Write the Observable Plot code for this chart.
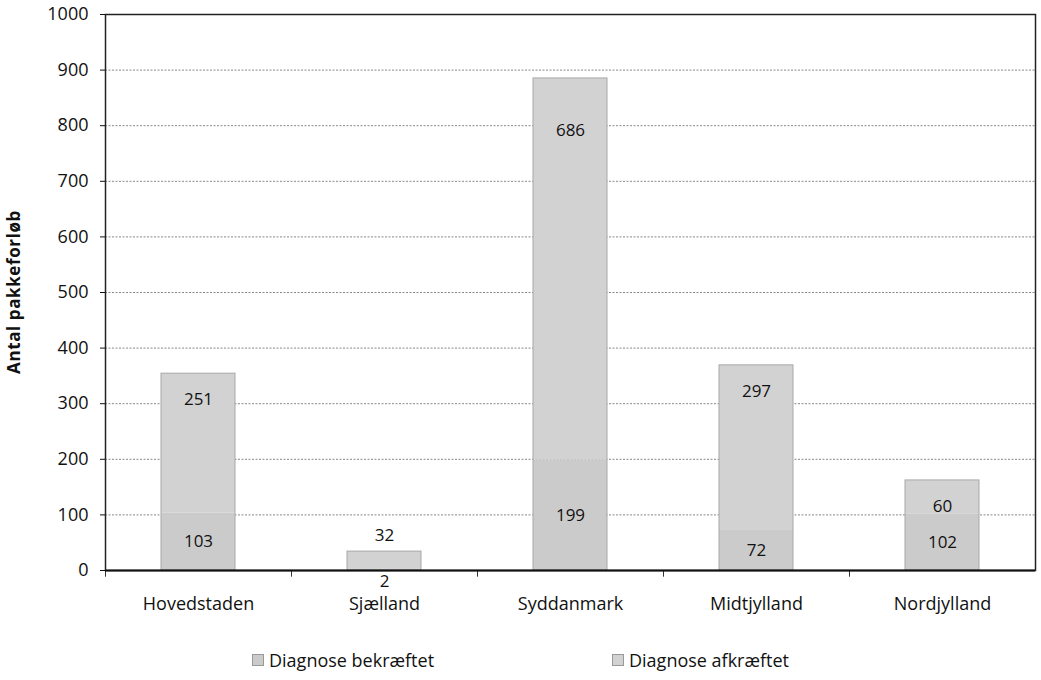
<!DOCTYPE html>
<html>
<head>
<meta charset="utf-8">
<script src="https://cdn.jsdelivr.net/npm/d3@7"></script>
<script src="https://cdn.jsdelivr.net/npm/@observablehq/plot@0.6"></script>
<style>
  body { margin: 0; background: #fff; font-family: "Open Sans", sans-serif; }
  #chart { width: 1041px; }
  .legend { position: relative; width: 1041px; height: 40px; font-size: 18px; color: #111; margin-top: 28px; }
  .legend .item { position: absolute; top: 0; display: flex; align-items: center; gap: 5px; white-space: nowrap; }
  .legend .sw { display: inline-block; width: 10px; height: 10px; border: 1px solid #999; }
</style>
</head>
<body>
<div id="chart"></div>
<script>
const regions = ["Hovedstaden", "Sjælland", "Syddanmark", "Midtjylland", "Nordjylland"];
const bekraeftet = [103, 2, 199, 72, 102];
const afkraeftet = [251, 32, 686, 297, 60];
const seriesNames = ["Diagnose bekræftet", "Diagnose afkræftet"];
const seriesColors = ["#cbcbcb", "#d2d2d2"];
const yTicks = [0, 100, 200, 300, 400, 500, 600, 700, 800, 900, 1000];

const rows = [];
regions.forEach((r, i) => {
  rows.push({region: r, series: seriesNames[0], value: bekraeftet[i], y1: 0, y2: bekraeftet[i]});
  rows.push({region: r, series: seriesNames[1], value: afkraeftet[i], y1: bekraeftet[i], y2: bekraeftet[i] + afkraeftet[i]});
});
const totals = regions.map((r, i) => ({region: r, total: bekraeftet[i] + afkraeftet[i]}));

// label anchor: bottom segment at its middle (below axis if tiny); top segment near its top (above if tiny)
const labels = rows.map(d => {
  const small = d.value < 10 || (d.series === seriesNames[1] && d.value < 40);
  if (d.series === seriesNames[0]) {
    return {...d, ly: small ? 0 : (d.y1 + d.y2) / 2, off: small ? 11 : 0};
  } else {
    return {...d, ly: d.y2, off: small ? -16 : (d.value > 500 ? 52 : 26)};
  }
});
const offsets = [...new Set(labels.map(d => d.off))];

const font = "Open Sans, sans-serif";
const chart = Plot.plot({
  width: 1041,
  height: 620,
  marginLeft: 105,
  marginRight: 6,
  marginTop: 14,
  marginBottom: 50,
  style: {fontFamily: font, fontSize: "18px", color: "#111", background: "#fff"},
  x: {domain: regions, paddingInner: 0.6, paddingOuter: 0.3, label: null, tickSize: 0, tickPadding: 27},
  y: {domain: [0, 1000], ticks: yTicks, tickFormat: d3.format("d"), label: null, tickSize: 5, tickPadding: 12},
  color: {domain: seriesNames, range: seriesColors},
  marks: [
    Plot.ruleY(yTicks.filter(t => t > 0 && t < 1000), {stroke: "#888", strokeWidth: 1, strokeDasharray: "2,1.5"}),
    Plot.rectY(rows, {x: "region", y1: "y1", y2: "y2", fill: "series"}),
    Plot.rectY(totals, {x: "region", y1: 0, y2: "total", fill: "none", stroke: "#a8a8a8", strokeWidth: 1}),
    ...offsets.map(o => Plot.text(labels.filter(d => d.off === o), {x: "region", y: "ly", dy: o, text: d => String(d.value), fontSize: 17, fill: "#111"})),
    Plot.ruleX(regions, {x: d => d, y1: 0, y2: -12, dx: -93, stroke: "#333"}),
    Plot.frame({stroke: "#222", strokeWidth: 1.5}),
    Plot.ruleY([0], {stroke: "#111", strokeWidth: 2})
  ]
});

const svg = d3.select(chart);
svg.append("text")
  .attr("transform", "translate(20,292) rotate(-90)")
  .attr("text-anchor", "middle")
  .attr("font-weight", "bold")
  .attr("font-size", 17)
  .attr("letter-spacing", "0.6")
  .attr("fill", "#111")
  .text("Antal pakkeforløb");

const container = document.getElementById("chart");
container.appendChild(chart);

const legend = document.createElement("div");
legend.className = "legend";
const legendLefts = [252, 612];
seriesNames.forEach((s, i) => {
  const it = document.createElement("div");
  it.className = "item";
  it.style.left = legendLefts[i] + "px";
  const sw = document.createElement("span");
  sw.className = "sw";
  sw.style.background = seriesColors[i];
  const lb = document.createElement("span");
  lb.textContent = s;
  it.appendChild(sw);
  it.appendChild(lb);
  legend.appendChild(it);
});
container.appendChild(legend);
</script>
</body>
</html>
